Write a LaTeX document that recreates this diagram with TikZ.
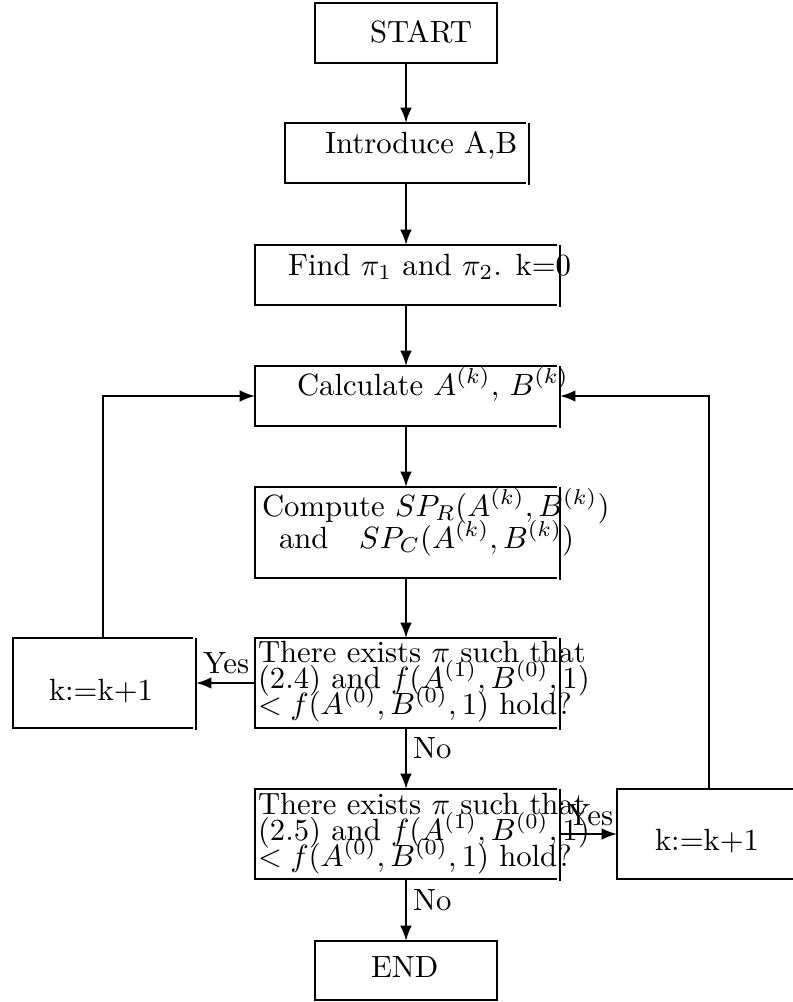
\documentclass[tikz,border=0pt]{standalone}
\usetikzlibrary{arrows.meta}
\begin{document}
\begin{tikzpicture}[x=0.3257pt,y=-0.3257pt,line width=0.65pt,
  >={Latex[length=5pt,width=3.8pt]},
  bx/.style 2 args={minimum width={#1*0.3257pt},minimum height={#2*0.3257pt},inner sep=0pt,outer sep=0pt},
  fullbox/.style={draw},
  txt/.style={anchor=base west,inner sep=0pt,outer sep=0pt},
  lbl/.style={anchor=base west,inner sep=0pt,outer sep=0pt}]
\clip (0,0) rectangle (793,1002);
% boxes
\node[bx={182}{60},fullbox] (start) at (406,33) {};
\node[bx={241}{60}] (intro) at (405.5,153) {};
\node[bx={302}{60}] (find) at (406,275) {};
\node[bx={302}{60}] (calc) at (406,396) {};
\node[bx={302}{91}] (comp) at (406,532.5) {};
\node[bx={302}{90}] (dec1) at (406,683) {};
\node[bx={302}{90}] (dec2) at (406,834) {};
\node[bx={182}{59},fullbox] (end) at (406,970.5) {};
\node[bx={180}{90}] (kl) at (103,683) {};
\node[bx={183}{90},fullbox] (kr) at (708.5,834) {};
\foreach \n in {intro,find,calc,comp,dec1,dec2,kl} {
  \draw (\n.north east) -- (\n.north west) -- (\n.south west) -- (\n.south east);
  \draw ([xshift=1pt]\n.north east) -- ([xshift=1pt,yshift=-0.6pt]\n.south east);
}
% texts
\node[txt] (tstart) at (370,43) {START};
\node[txt] (tintro) at (325,154) {Introduce A,B};
\node[txt] (tfind) at (288,275) {Find $\pi_1$ and $\pi_2$. k=0};
\node[txt] (tcalc) at (297,395) {Calculate $A^{(k)}$, $B^{(k)}$};
\node[txt] (tcomp1) at (262,516) {Compute $SP_R(A^{(k)},B^{(k)})$};
\node[txt] (tcomp2) at (279,548) {and\quad $SP_C(A^{(k)},B^{(k)})$};
\node[txt] (td1a) at (258,662) {There exists $\pi$ such that};
\node[txt] (td1b) at (258,688) {(2.4) and $f(A^{(1)},B^{(0)},1)$};
\node[txt] (td1c) at (258,714) {$<f(A^{(0)},B^{(0)},1)$ hold?};
\node[txt] (td2a) at (258,814) {There exists $\pi$ such that};
\node[txt] (td2b) at (258,840) {(2.5) and $f(A^{(1)},B^{(0)},1)$};
\node[txt] (td2c) at (258,866) {$<f(A^{(0)},B^{(0)},1)$ hold?};
\node[txt] (tkl) at (49,700) {k:=k+1};
\node[txt] (tkr) at (655,850) {k:=k+1};
\node[txt] (tend) at (371,977) {END};
% connectors
\draw[->] (start) -- (start |- intro.north);
\draw[->] (intro.south -| find.north) -- (find.north);
\draw[->] (find) -- (calc);
\draw[->] (calc) -- (comp);
\draw[->] (comp) -- (dec1);
\draw[->] (dec1) -- (dec2);
\draw[->] (dec2) -- (end);
\draw[->] (dec1.west) -- ([xshift=1pt]kl.east);
\draw[->] ([xshift=1pt]dec2.east) -- (kr.west);
\draw[->] (kl.north) |- (calc.west);
\draw[->] (kr.north) |- ([xshift=1pt]calc.east);
% labels
\node[lbl] (yes1) at (203,673) {Yes};
\node[lbl] (yes2) at (567,825) {Yes};
\node[lbl] (no1) at (413,758) {No};
\node[lbl] (no2) at (413,910) {No};
\end{tikzpicture}
\end{document}
